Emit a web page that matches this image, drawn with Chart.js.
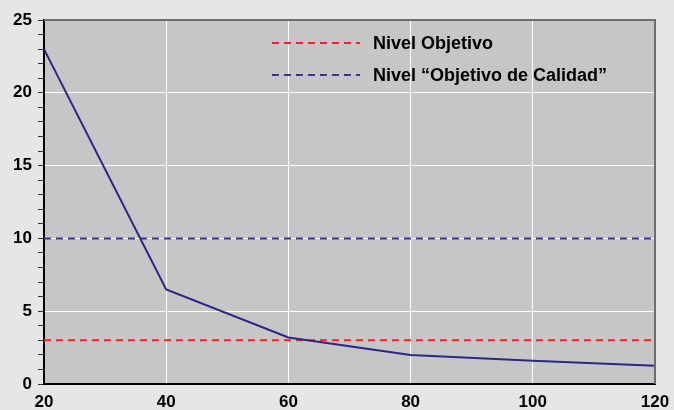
<!doctype html>
<html lang="es">
<head>
<meta charset="UTF-8">
<title>Nivel</title>
<script src="https://cdn.jsdelivr.net/npm/chart.js"></script>
<style>
  body { margin: 0; padding: 0; background: #e6e6e6; }
  #wrap { width: 674px; height: 410px; }
</style>
</head>
<body>
<div id="wrap"><canvas id="chart"></canvas></div>
<script>
const xValues = [20, 40, 60, 80, 100, 120];
const curveValues = [23, 6.5, 3.2, 2.0, 1.6, 1.25];
const nivelObjetivo = 3;
const nivelCalidad = 10;
const labelObjetivo = 'Nivel Objetivo';
const labelCalidad = 'Nivel \u201cObjetivo de Calidad\u201d';

const FONT = "'Liberation Sans', Arial, sans-serif";

// plot background + top/right frame
const plotFrame = {
  id: 'plotFrame',
  beforeDraw(chart) {
    const { ctx, chartArea: a } = chart;
    ctx.save();
    ctx.fillStyle = '#c6c6c6';
    ctx.fillRect(a.left, a.top, a.right - a.left, a.bottom - a.top);
    ctx.restore();
  },
  afterDatasetsDraw(chart) {
    const { ctx, chartArea: a } = chart;
    ctx.save();
    ctx.strokeStyle = '#6e6e6e';
    ctx.lineWidth = 2;
    ctx.beginPath();
    ctx.moveTo(a.left, a.top);
    ctx.lineTo(a.right, a.top);
    ctx.lineTo(a.right, a.bottom);
    ctx.stroke();
    ctx.restore();
  }
};

// legend drawn inside the plot
const innerLegend = {
  id: 'innerLegend',
  afterDraw(chart) {
    const { ctx } = chart;
    const items = chart.data.datasets.filter(d => d.label);
    ctx.save();
    items.forEach((d, i) => {
      const y = 43 + i * 32;
      ctx.strokeStyle = d.borderColor;
      ctx.lineWidth = d.borderWidth;
      ctx.setLineDash(d.borderDash);
      ctx.beginPath();
      ctx.moveTo(272, y);
      ctx.lineTo(360, y);
      ctx.stroke();
      ctx.setLineDash([]);
      ctx.fillStyle = '#000';
      ctx.font = 'bold 18px ' + FONT;
      ctx.textBaseline = 'middle';
      ctx.fillText(d.label, 373, y + 1.5);
    });
    ctx.restore();
  }
};

new Chart(document.getElementById('chart'), {
  type: 'line',
  data: {
    datasets: [
      {
        data: xValues.map((x, i) => ({ x: x, y: curveValues[i] })),
        borderColor: '#2b2783',
        borderWidth: 2,
        pointRadius: 0,
        tension: 0
      },
      {
        label: labelObjetivo,
        data: [{ x: xValues[0], y: nivelObjetivo }, { x: xValues[xValues.length - 1], y: nivelObjetivo }],
        borderColor: '#f0242a',
        borderWidth: 2,
        borderDash: [7, 5],
        pointRadius: 0
      },
      {
        label: labelCalidad,
        data: [{ x: xValues[0], y: nivelCalidad }, { x: xValues[xValues.length - 1], y: nivelCalidad }],
        borderColor: '#3a3596',
        borderWidth: 2,
        borderDash: [7, 5],
        pointRadius: 0
      }
    ]
  },
  options: {
    responsive: true,
    maintainAspectRatio: false,
    animation: false,
    layout: { padding: { top: 20, right: 19, left: 0, bottom: 0 } },
    plugins: { legend: { display: false }, tooltip: { enabled: false } },
    scales: {
      x: {
        type: 'linear',
        min: 20,
        max: 120,
        ticks: {
          stepSize: 20,
          color: '#000',
          font: { family: FONT, size: 17, weight: 'bold' },
          padding: 8,
          maxRotation: 0
        },
        grid: {
          color: c => (c.tick.value === 20 || c.tick.value === 120) ? 'rgba(0,0,0,0)' : '#ffffff',
          lineWidth: 1,
          drawTicks: false
        },
        border: { color: '#000', width: 2 },
        afterFit: s => { s.height = 26; s.paddingLeft = 0; s.paddingRight = 0; }
      },
      y: {
        min: 0,
        max: 25,
        ticks: {
          stepSize: 1,
          autoSkip: false,
          color: '#000',
          font: { family: FONT, size: 17, weight: 'bold' },
          padding: 6,
          callback: v => (v % 5 === 0 ? v : '')
        },
        grid: {
          color: c => (c.tick.value % 5 === 0 && c.tick.value !== 0 && c.tick.value !== 25) ? '#ffffff' : 'rgba(0,0,0,0)',
          tickColor: '#333',
          tickLength: 6,
          tickWidth: 1,
          lineWidth: 1
        },
        border: { color: '#000', width: 2 },
        afterFit: s => { s.width = 44; s.paddingTop = 0; s.paddingBottom = 0; }
      }
    }
  },
  plugins: [plotFrame, innerLegend]
});
</script>
</body>
</html>
